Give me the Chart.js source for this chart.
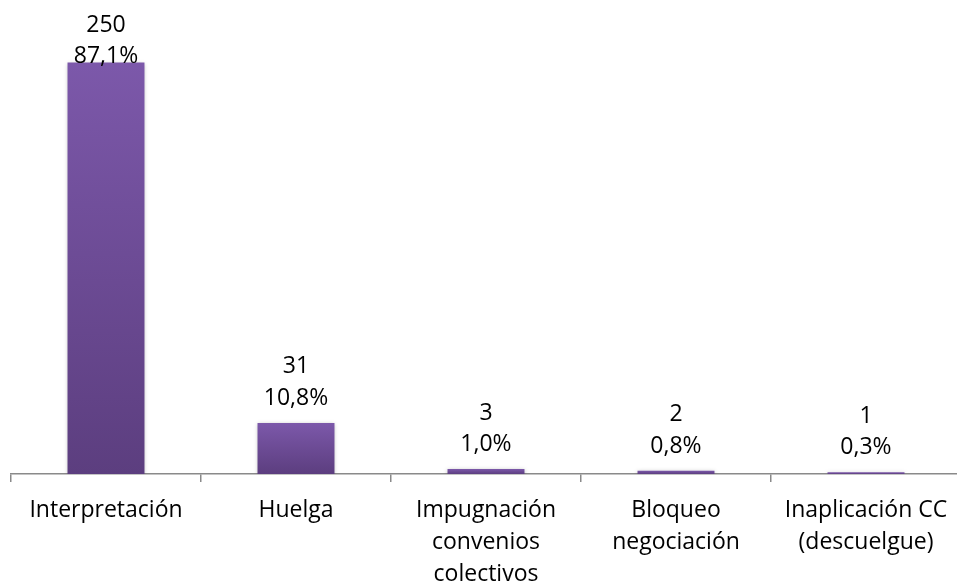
<!DOCTYPE html>
<html>
<head>
<meta charset="utf-8">
<script src="https://cdn.jsdelivr.net/npm/chart.js@4/dist/chart.umd.min.js"></script>
<style>
  html, body { margin: 0; padding: 0; background: #fff; overflow: hidden; }
  #wrap { position: relative; width: 961px; height: 583px; }
</style>
</head>
<body>
<div id="wrap"><canvas id="chart"></canvas></div>
<script>
// categories, counts and shares
const categories = [
    ['Interpretación'],
    ['Huelga'],
    ['Impugnación', 'convenios', 'colectivos'],
    ['Bloqueo', 'negociación'],
    ['Inaplicación CC', '(descuelgue)']
];
const counts = [250, 31, 3, 2, 1];
const shares = ['87,1%', '10,8%', '1,0%', '0,8%', '0,3%'];

const FONT = '"Open Sans", sans-serif';

// vertical gradient for every bar, from its own top to the baseline
function barFill(ctx) {
    const chart = ctx.chart;
    if (!chart.chartArea || ctx.type !== 'data') return '#6f4d99';
    const y = chart.scales.y;
    const top = y.getPixelForValue(ctx.raw);
    const base = y.getPixelForValue(0);
    const g = chart.ctx.createLinearGradient(0, top, 0, Math.max(base, top + 1));
    g.addColorStop(0, '#7c58aa');
    g.addColorStop(1, '#5c3e7f');
    return g;
}

// soft shadow round the bars
const barShadow = {
    id: 'barShadow',
    beforeDatasetsDraw(chart) {
        const c = chart.ctx;
        c.save();
        c.shadowColor = 'rgba(0,0,0,0.28)';
        c.shadowBlur = 4;
        c.shadowOffsetX = 0;
        c.shadowOffsetY = 1;
    },
    afterDatasetsDraw(chart) {
        chart.ctx.restore();
    }
};

// two line value labels over the bars (count, share)
const valueLabels = {
    id: 'valueLabels',
    afterDatasetsDraw(chart) {
        const c = chart.ctx;
        const meta = chart.getDatasetMeta(0);
        c.save();
        c.font = '23px ' + FONT;
        c.fillStyle = '#000';
        c.textAlign = 'center';
        c.textBaseline = 'alphabetic';
        meta.data.forEach((bar, i) => {
            const shareBase = Math.max(bar.y - 18, 63);
            c.fillText(String(counts[i]), bar.x, shareBase - 31.5);
            c.fillText(shares[i], bar.x, shareBase);
        });
        c.restore();
    }
};

new Chart(document.getElementById('chart'), {
    type: 'bar',
    data: {
        labels: categories,
        datasets: [{
            data: counts,
            backgroundColor: barFill,
            borderWidth: 0,
            categoryPercentage: 1,
            barPercentage: 0.405
        }]
    },
    options: {
        responsive: true,
        maintainAspectRatio: false,
        animation: false,
        events: [],
        layout: {padding: {left: 11, right: 0, top: 0, bottom: 0}},
        plugins: {
            legend: {display: false},
            tooltip: {enabled: false}
        },
        scales: {
            x: {
                grid: {
                    display: true,
                    drawOnChartArea: false,
                    drawTicks: true,
                    tickLength: 8,
                    color: '#8a8a8a',
                    lineWidth: 1.5
                },
                border: {display: true, color: '#8a8a8a', width: 1.5},
                ticks: {
                    color: '#000',
                    padding: 12,
                    maxRotation: 0,
                    autoSkip: false,
                    font: {family: FONT, size: 23, lineHeight: '32px'}
                },
                afterFit(scale) {
                    scale.height = 109;
                }
            },
            y: {
                display: false,
                min: 0,
                max: 288
            }
        }
    },
    plugins: [barShadow, valueLabels]
});
</script>
</body>
</html>
